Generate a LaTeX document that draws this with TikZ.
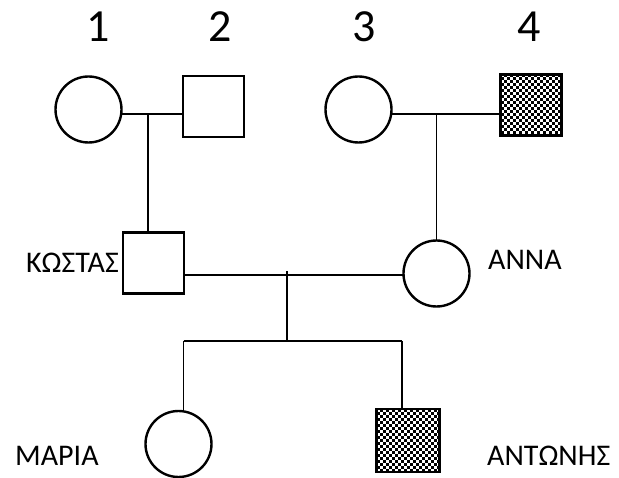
\documentclass[tikz,border=0pt]{standalone}
\usepackage{fontspec}
\setmainfont{Carlito}
\usetikzlibrary{calc}

\tikzset{
  female/.style={circle, draw=black, line width=2.4pt, fill=white,
    minimum size=66pt, inner sep=0pt, outer sep=0pt},
  male/.style={rectangle, draw=black, line width=2.4pt, fill=white,
    minimum size=61pt, inner sep=0pt, outer sep=0pt},
  affected/.style={male, fill=black,
    path picture={
      \foreach \i in {0,...,22}{
        \foreach \j in {0,...,22}{
          \ifodd\numexpr\i+\j\relax\else
            \fill[white] ($(path picture bounding box.north west)+(\i*3,\j*3)$)
              rectangle +(3,3);
          \fi}}}},
  link/.style={draw=black, line width=1.8pt},
  gen/.style={font=\fontsize{46}{50}\selectfont, anchor=base},
  who/.style={font=\fontsize{30}{34}\selectfont, inner sep=0pt}
}

\begin{document}
\begin{tikzpicture}[x=1pt, y=-1pt]
  \useasboundingbox (0,0) rectangle (619,478);

  % generation I
  \node[female] (c1) at (88.5,109.5) {};
  \node[male]   (s2) at (213.5,106.5) {};
  \node[female] (c3) at (358.5,109.5) {};
  \node[affected] (s4) at (531,105) {};

  \node[gen] (n1) at (98,42)  {1};
  \node[gen] (n2) at (220,42) {2};
  \node[gen] (n3) at (364,42) {3};
  \node[gen] (n4) at (529,42) {4};

  % generation II
  \node[male]   (kostas) at (153.5,263) {};
  \node[female] (anna)   at (436.5,273.5) {};
  \node[who, anchor=base east] (lkostas) at (119,273) {ΚΩΣΤΑΣ};
  \node[who, anchor=base west] (lanna)   at (488,270) {ΑΝΝΑ};

  % generation III
  \node[female]   (maria)   at (178.5,444) {};
  \node[affected, minimum size=63pt] (antonis) at (408,440.5) {};
  \node[who, anchor=base west] (lmaria)   at (15,465)  {ΜΑΡΙΑ};
  \node[who, anchor=base west] (lantonis) at (487,465) {ΑΝΤΩΝΗΣ};

  % junction points
  \coordinate (m12) at (148,114);
  \coordinate (m34) at (436.5,114);
  \coordinate (mka) at (287,271.5);
  \coordinate (sibL) at (183.5,341);
  \coordinate (sibR) at (402,341);

  % marriage lines and descent
  \draw[link] (c1.-8) -- (c1.-8 -| s2.west);
  \draw[link] (m12) -- (m12 |- kostas.north);
  \draw[link] (c3.-8) -- (c3.-8 -| s4.west);
  \draw[link] (m34) -- (anna.north);
  \draw[link] (anna.183 -| kostas.east) -- (anna.183);
  \draw[link] (mka) -- (mka |- sibL);
  \draw[link] (sibL) -- (sibR);
  \draw[link] (sibL) -- (sibL |- maria.north);
  \draw[link] (sibR) -- (sibR |- antonis.north);
\end{tikzpicture}
\end{document}
